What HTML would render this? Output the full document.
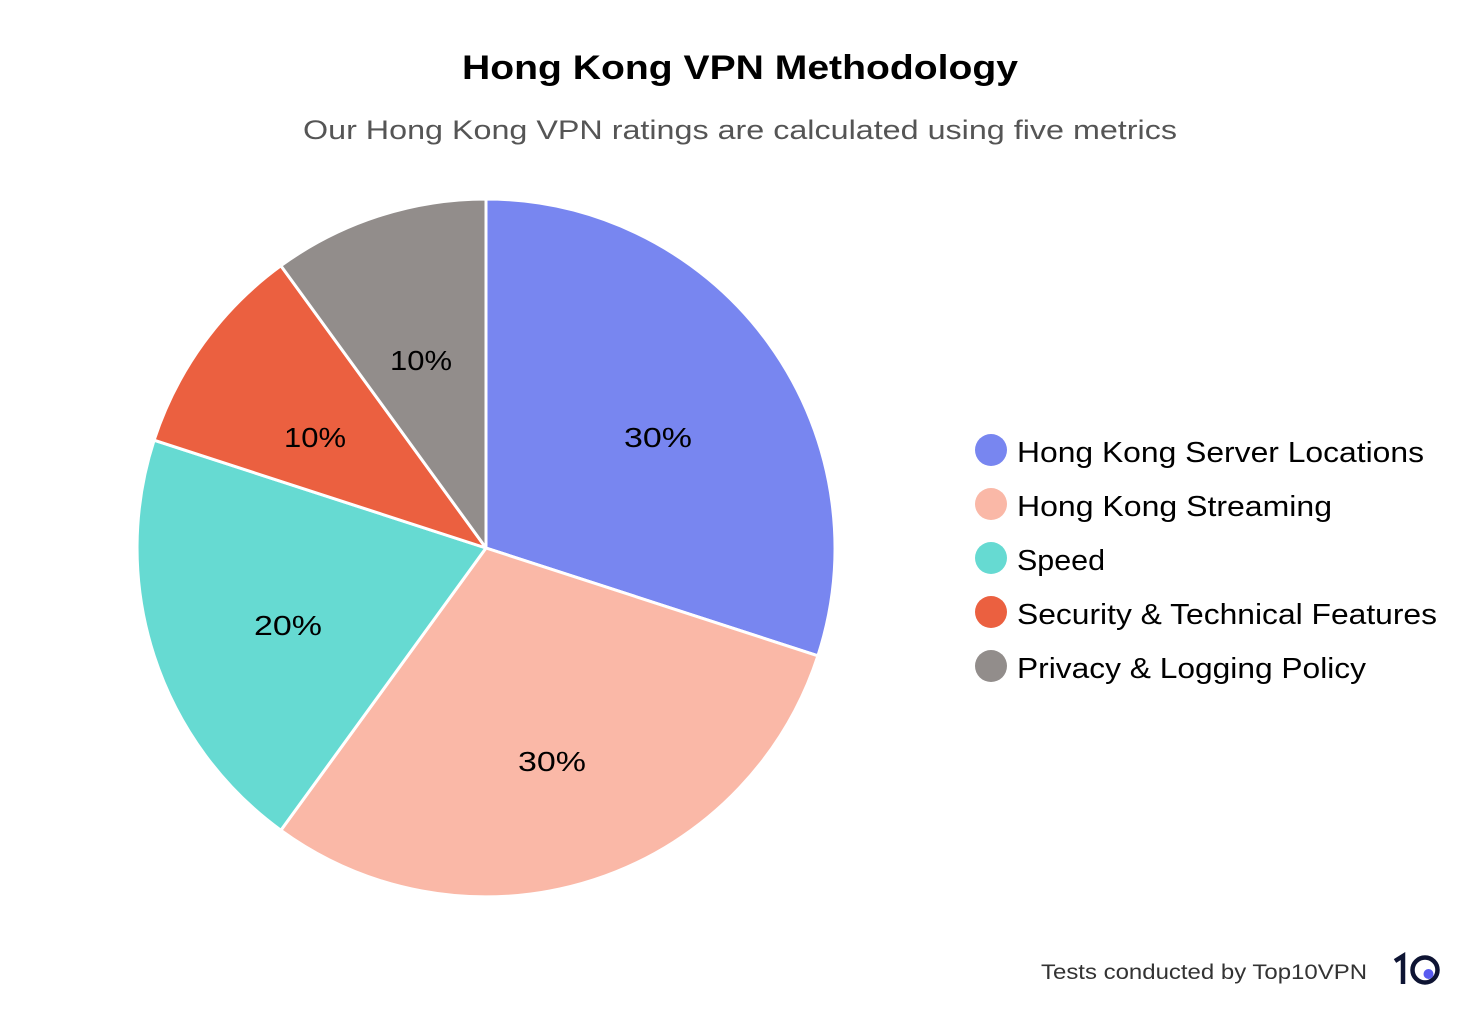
<!DOCTYPE html>
<html><head><meta charset="utf-8"><style>
html,body{margin:0;padding:0;background:#fff;}
svg{display:block;font-family:"Liberation Sans",sans-serif;}
</style></head><body>
<svg width="1480" height="1018" viewBox="0 0 1480 1018">
<rect width="1480" height="1018" fill="#fff"/>
<text x="740" y="79" text-anchor="middle" font-size="34" font-weight="bold" fill="#000" textLength="556" lengthAdjust="spacingAndGlyphs">Hong Kong VPN Methodology</text>
<text x="740" y="139" text-anchor="middle" font-size="27" fill="#555" textLength="874" lengthAdjust="spacingAndGlyphs">Our Hong Kong VPN ratings are calculated using five metrics</text>
<g stroke="#fff" stroke-width="3" stroke-linejoin="round">
<path d="M486,548 L486,199 A349,349 0 0,1 817.9,655.8 Z" fill="#7886F0"/>
<path d="M486,548 L817.9,655.8 A349,349 0 0,1 280.9,830.3 Z" fill="#FAB8A7"/>
<path d="M486,548 L280.9,830.3 A349,349 0 0,1 154.1,440.2 Z" fill="#66DAD2"/>
<path d="M486,548 L154.1,440.2 A349,349 0 0,1 280.9,265.7 Z" fill="#EB6040"/>
<path d="M486,548 L280.9,265.7 A349,349 0 0,1 486,199 Z" fill="#928D8B"/>
</g>
<g font-size="28" fill="#000" text-anchor="middle">
<text x="658" y="447" textLength="68" lengthAdjust="spacingAndGlyphs">30%</text>
<text x="552" y="771" textLength="68" lengthAdjust="spacingAndGlyphs">30%</text>
<text x="288" y="635" textLength="68" lengthAdjust="spacingAndGlyphs">20%</text>
<text x="315" y="447" textLength="62" lengthAdjust="spacingAndGlyphs">10%</text>
<text x="421" y="370" textLength="62" lengthAdjust="spacingAndGlyphs">10%</text>
</g>
<circle cx="991" cy="450" r="16" fill="#7886F0"/>
<circle cx="991" cy="504" r="16" fill="#FAB8A7"/>
<circle cx="991" cy="558" r="16" fill="#66DAD2"/>
<circle cx="991" cy="612" r="16" fill="#EB6040"/>
<circle cx="991" cy="666" r="16" fill="#928D8B"/>
<g font-size="29" fill="#000">
<text x="1017" y="462" textLength="407" lengthAdjust="spacingAndGlyphs">Hong Kong Server Locations</text>
<text x="1017" y="516" textLength="315" lengthAdjust="spacingAndGlyphs">Hong Kong Streaming</text>
<text x="1017" y="570" textLength="88" lengthAdjust="spacingAndGlyphs">Speed</text>
<text x="1017" y="624" textLength="420" lengthAdjust="spacingAndGlyphs">Security &amp; Technical Features</text>
<text x="1017" y="678" textLength="349" lengthAdjust="spacingAndGlyphs">Privacy &amp; Logging Policy</text>
</g>
<text x="1367" y="979" text-anchor="end" font-size="21" fill="#333" textLength="326" lengthAdjust="spacingAndGlyphs">Tests conducted by Top10VPN</text>
<g>
<path d="M1395,961 L1403,956 L1403,984" stroke="#0E1433" stroke-width="4.5" fill="none"/>
<circle cx="1425" cy="970" r="12.5" stroke="#0E1433" stroke-width="4.5" fill="none"/>
<circle cx="1428.5" cy="974" r="5" fill="#5A5CF0"/>
</g>
</svg>
</body></html>
